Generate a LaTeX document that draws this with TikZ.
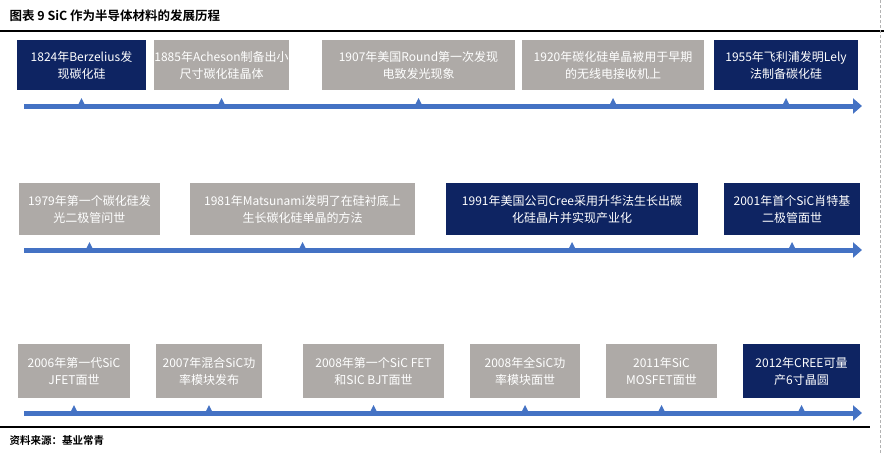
\documentclass[tikz,border=0pt]{standalone}
\usepackage{fontspec}
\setmainfont{Noto Sans CJK SC}
\newfontfamily\titlefont{Noto Sans CJK SC Bold}
\usetikzlibrary{arrows.meta,positioning}
\definecolor{navy}{HTML}{0E2462}
\definecolor{stone}{HTML}{AEAAA7}
\definecolor{lineblue}{HTML}{4472C4}
\tikzset{
  event/.style={fill=#1, text=white, font=\fontsize{12}{17}\selectfont, align=center, inner sep=0pt},
  timeline/.style={draw=lineblue, line width=5pt, -{Triangle[length=9pt,width=15pt]}},
  tick/.style={fill=lineblue}
}
% box: name, x1, x2, y1, y2, colour, text
\newcommand{\eventbox}[7]{%
  \node[event=#6, minimum width=#3pt-#2pt, minimum height=#5pt-#4pt]
    (#1) at ({(#2+#3)/2}, {(#4+#5)/2}) {#7};
}
\begin{document}
\begin{tikzpicture}[x=1pt, y=-1pt]
  \useasboundingbox (0,0) rectangle (884,453);
  \fill[white] (0,0) rectangle (884,453);

  \node[anchor=west, font=\titlefont\fontsize{12.5}{14}\selectfont] (title) at (6,16) {图表 9 SiC 作为半导体材料的发展历程};
  \draw[line width=1.6pt] (0,31) -- (884,31);
  \draw[densely dashed, gray!60] (880,0) -- (880,453);

  % row 1
  \eventbox{a1}{17}{146}{40}{90}{navy}{1824年Berzelius发\\现碳化硅}
  \eventbox{a2}{155}{288}{40}{90}{stone}{1885年Acheson制备出小\\尺寸碳化硅晶体}
  \eventbox{a3}{322}{515}{40}{90}{stone}{1907年美国Round第一次发现\\电致发光现象}
  \eventbox{a4}{522}{704}{40}{90}{stone}{1920年碳化硅单晶被用于早期\\的无线电接收机上}
  \eventbox{a5}{714}{858}{40}{90}{navy}{1955年飞利浦发明Lely\\法制备碳化硅}
  \coordinate (s1) at (24,106);
  \coordinate (e1) at (862,106);
  \draw[timeline] (s1) -- (e1);
  \foreach \n in {a1,a2,a3,a4,a5}
    \fill[tick] (\n.south |- s1) ++(-3,-2) -- ++(3,-6) -- ++(3,6) -- cycle;

  % row 2
  \eventbox{b1}{19}{160}{183}{235}{stone}{1979年第一个碳化硅发\\光二极管问世}
  \eventbox{b2}{190}{415}{183}{235}{stone}{1981年Matsunami发明了在硅衬底上\\生长碳化硅单晶的方法}
  \eventbox{b3}{446}{698}{183}{235}{navy}{1991年美国公司Cree采用升华法生长出碳\\化硅晶片并实现产业化}
  \eventbox{b4}{724}{860}{183}{235}{navy}{2001年首个SiC肖特基\\二极管面世}
  \coordinate (s2) at (24,250);
  \coordinate (e2) at (862,250);
  \draw[timeline] (s2) -- (e2);
  \foreach \n in {b1,b2,b3,b4}
    \fill[tick] (\n.south |- s2) ++(-3,-2) -- ++(3,-6) -- ++(3,6) -- cycle;

  % row 3
  \eventbox{c1}{18}{130}{344}{398}{stone}{2006年第一代SiC\\JFET面世}
  \eventbox{c2}{156}{262}{344}{398}{stone}{2007年混合SiC功\\率模块发布}
  \eventbox{c3}{303}{444}{344}{398}{stone}{2008年第一个SiC FET\\和SIC BJT面世}
  \eventbox{c4}{470}{580}{344}{398}{stone}{2008年全SiC功\\率模块面世}
  \eventbox{c5}{606}{717}{344}{398}{stone}{2011年SiC\\MOSFET面世}
  \eventbox{c6}{743}{860}{344}{398}{navy}{2012年CREE可量\\产6寸晶圆}
  \coordinate (s3) at (24,413);
  \coordinate (e3) at (862,413);
  \draw[timeline] (s3) -- (e3);
  \foreach \n in {c1,c2,c3,c4,c5,c6}
    \fill[tick] (\n.south |- s3) ++(-3,-2) -- ++(3,-6) -- ++(3,6) -- cycle;

  \draw[line width=1.2pt] (0,427) -- (870,427);
  \node[anchor=west, font=\titlefont\fontsize{10.5}{12}\selectfont] (source) at (6,441) {资料来源：基业常青};
\end{tikzpicture}
\end{document}
